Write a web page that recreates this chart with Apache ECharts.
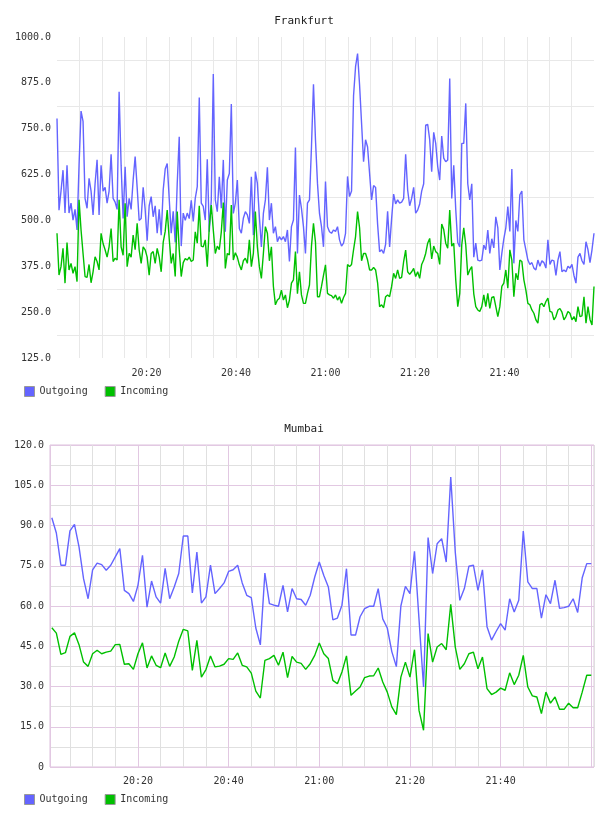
<!DOCTYPE html>
<html>
<head>
<meta charset="utf-8">
<title>Frankfurt / Mumbai</title>
<script src="https://cdn.jsdelivr.net/npm/echarts@6/dist/echarts.min.js"></script>
<style>
html, body { margin: 0; padding: 0; background: #fff; }
#main { width: 608px; height: 816px; }
</style>
</head>
<body>
<div id="main"></div>
<script>
// tick labels every 20 minutes after 20:00
var tickLabels = ['20:20', '20:40', '21:00', '21:20', '21:40'];
var seriesNames = ['Outgoing', 'Incoming'];

// Frankfurt, 20:00 - 22:00, evenly spaced samples
var fraOut = [
  778,528,580,637,520,650,520,547,501,530, 474,650,798,770,560,533,615,580,515,600,
  665,515,650,580,590,547,580,680,560,550, 530,851,650,505,646,510,560,530,610,674,
  590,500,505,590,530,445,540,565,510,540, 465,530,460,583,640,655,560,465,525,440,
  600,728,430,520,500,520,505,555,
  497,560,592,835,547,538,501,667,469,556, 899,556,524,619,533,665,469,610,628,817,
  519,547,610,478,465,506,524,515,492,619, 460,633,601,510,428,519,556,645,501,547,
  465,483,442,456,447,456,442,474,388,483, 501,699,410,569,533,483,410,547,556,701,
  871,719,601,519,483,428,606,483,
  469,465,474,470,483,447,430,438,465,620, 565,580,840,919,955,870,765,660,720,700,
  628,556,595,590,490,415,420,410,435,525, 428,505,572,545,556,547,550,560,680,583,
  540,560,590,520,528,545,580,600,760,762, 720,633,740,710,647,610,730,670,660,665,
  887,560,650,530,440,428,710,
  710,819,600,556,600,400,438,392,390,392, 433,420,474,410,450,425,510,480,365,410,
  450,480,538,470,640,383,500,470,570,580, 447,420,392,380,385,370,365,392,375,390,
  385,370,447,380,392,390,350,392,415,360, 365,360,375,370,380,350,329,400,410,390,
  380,442,420,385,420,465
];
var fraIn = [
  465,351,374,424,329,440,365,383,356,374, 333,556,474,410,347,345,380,330,360,401,
  388,365,465,437,420,400,428,478,388,397, 392,556,428,405,547,374,410,400,460,420,
  492,420,383,428,420,400,351,410,415,383, 424,400,360,440,470,528,450,383,410,347,
  524,420,347,385,396,392,400,388,
  392,469,438,540,430,428,447,374,483,542, 474,410,430,420,469,549,369,410,406,542,
  392,412,400,379,365,390,397,383,447,374, 410,524,428,374,342,410,483,465,390,428,
  320,270,283,288,310,283,297,262,283,329, 338,415,300,360,297,274,274,301,324,430,
  492,440,292,292,320,350,379,301,
  297,295,288,297,283,292,274,290,301,380, 374,380,420,456,524,480,390,410,410,392,
  365,365,372,365,330,265,270,262,292,297, 292,320,356,342,365,342,345,388,419,360,
  353,360,369,347,360,342,380,392,410,438, 451,395,430,415,410,380,490,475,438,424,
  528,430,438,338,265,301,433,
  480,433,351,365,374,300,265,256,252,265, 297,265,301,260,290,292,265,238,265,320,
  329,365,315,420,392,292,356,338,392,388, 338,310,274,270,256,247,229,220,270,274,
  265,279,288,252,250,229,238,256,260,250, 229,238,252,247,229,238,224,265,238,240,
  292,220,265,230,215,320
];

// Mumbai, one sample per minute, 20:01 - 22:00
var mumOut = [
  92.9,87.2,75.2,75.2,88.0,90.4,82.0,70.2,62.7,73.5, 76.0,75.4,73.3,75.2,78.3,81.4,65.8,64.6,61.7,67.7,
  78.9,59.6,69.3,63.4,61.1,74.0,62.7,67.1,72.1,86.1, 86.1,64.9,80.1,61.1,63.4,75.2,64.6,66.5,68.6,72.9,
  73.5,75.2,68.6,64.0,63.1,51.8,45.5,72.3,60.9,60.3, 59.9,67.7,57.8,66.5,62.7,62.4,60.3,64.0,70.8,76.4,
  71.4,67.1,54.8,55.5,60.3,73.9,49.2,49.2,56.0,59.0, 59.9,59.9,66.5,55.2,51.8,43.0,37.4,60.0,67.3,64.6,
  80.4,55.0,29.8,85.5,72.1,83.2,85.1,76.4,108.1,80.0, 62.1,66.5,74.8,75.2,65.8,73.5,52.3,47.3,50.5,53.4,
  51.0,62.7,57.8,62.1,87.9,69.0,66.5,66.5,55.5,64.2, 60.9,69.6,59.1,59.4,59.9,62.7,57.6,70.5,75.8,75.8
];
var mumIn = [
  51.9,49.9,42.0,42.6,48.7,50.0,45.6,39.1,37.5,42.2, 43.5,42.2,42.8,43.2,45.6,45.7,38.3,38.5,36.4,42.2,
  46.3,36.9,41.4,37.9,37.0,42.5,37.5,41.0,46.9,51.3, 50.7,36.0,47.2,33.5,36.3,41.4,37.3,37.6,38.3,40.4,
  40.1,42.5,37.9,37.3,35.0,28.3,25.7,39.7,40.4,41.6, 37.9,42.8,33.3,41.2,39.1,38.6,36.4,38.5,41.6,46.2,
  42.2,40.4,32.3,31.0,35.4,41.4,26.7,28.3,29.8,33.3, 33.9,34.0,36.9,31.7,27.9,22.4,19.5,33.5,39.1,33.5,
  43.7,21.1,13.7,49.7,39.1,44.7,46.0,43.7,60.6,44.7, 36.4,38.5,42.2,42.8,36.6,41.0,29.2,27.0,27.9,29.4,
  28.6,35.1,30.7,34.2,41.6,29.8,26.5,26.1,19.9,27.9, 23.8,26.1,21.5,21.5,23.8,22.1,22.1,27.9,34.2,34.2
];

var mono = 'DejaVu Sans Mono';
var txt = {fontFamily: mono, fontSize: 10, color: '#333'};

var fraStep = 120 / (fraOut.length - 1);
function fraPts(arr) { return arr.map(function (v, i) { return [i * fraStep, v]; }); }
function mumPts(arr) { return arr.map(function (v, i) { return [i + 1, v]; }); }

function timeFmt(v) {
  if (v % 20 === 0 && v > 0 && v < 120) return tickLabels[v / 20 - 1];
  return '';
}

function legendCfg(top) {
  return {
    data: seriesNames, left: 24, top: top, padding: 0,
    itemWidth: 10, itemHeight: 10, itemGap: 17, icon: 'rect',
    itemStyle: {borderColor: '#999', borderWidth: 1},
    textStyle: txt
  };
}

function lineSeries(name, color, xi, data) {
  return {
    name: name, type: 'line', xAxisIndex: xi, yAxisIndex: xi,
    data: data, showSymbol: false, symbol: 'none',
    lineStyle: {width: 1.4, color: color}, itemStyle: {color: color}
  };
}

var blue = '#6464ff', green = '#00c000';
var pink = '#e2c8e2', gray = '#e0e0e0';

var myChart = echarts.init(document.getElementById('main'), null, {renderer: 'canvas'});
var option = {
  animation: false,
  title: [
    {text: 'Frankfurt', left: 'center', top: 11,
     textStyle: {fontFamily: mono, fontSize: 11, fontWeight: 'normal', color: '#222'}},
    {text: 'Mumbai', left: 'center', top: 419,
     textStyle: {fontFamily: mono, fontSize: 11, fontWeight: 'normal', color: '#222'}}
  ],
  legend: [legendCfg(386), legendCfg(794)],
  grid: [
    {left: 57, right: 14, top: 37, height: 321},
    {left: 50, right: 14, top: 445, height: 322, show: true,
     borderColor: '#dcc0dc', borderWidth: 1, backgroundColor: 'transparent'}
  ],
  xAxis: [
    {type: 'value', gridIndex: 0, min: 0, max: 120, interval: 5,
     axisLine: {show: false}, axisTick: {show: false},
     axisLabel: {formatter: timeFmt, margin: 10, fontFamily: mono, fontSize: 10, color: '#333'},
     splitLine: {show: true, showMinLine: false, showMaxLine: false, lineStyle: {color: '#e8e8e8'}}},
    {type: 'value', gridIndex: 1, min: 0.6, max: 120.6, splitNumber: 24,
     axisLine: {show: false}, axisTick: {show: false},
     axisLabel: {formatter: timeFmt, margin: 9, fontFamily: mono, fontSize: 10, color: '#333',
                 showMinLabel: false, showMaxLabel: false},
     splitLine: {show: true, lineStyle: {color: [pink, gray, gray, gray]}}}
  ],
  yAxis: [
    {type: 'value', gridIndex: 0, min: 125, max: 1000, interval: 125,
     axisLine: {show: false}, axisTick: {show: false},
     axisLabel: {formatter: function (v) { return v.toFixed(1); }, margin: 6,
                 fontFamily: mono, fontSize: 10, color: '#333'},
     splitLine: {show: false},
     minorTick: {show: false, splitNumber: 2},
     minorSplitLine: {show: true, lineStyle: {color: '#e8e8e8'}}},
    {type: 'value', gridIndex: 1, min: 0, max: 120, interval: 15,
     axisLine: {show: false}, axisTick: {show: false},
     axisLabel: {formatter: function (v) { return v === 0 ? '0' : v.toFixed(1); }, margin: 6,
                 fontFamily: mono, fontSize: 10, color: '#333'},
     splitLine: {show: true, lineStyle: {color: pink}},
     minorTick: {show: false, splitNumber: 2},
     minorSplitLine: {show: true, lineStyle: {color: gray}}}
  ],
  series: [
    lineSeries(seriesNames[0], blue, 0, fraPts(fraOut)),
    lineSeries(seriesNames[1], green, 0, fraPts(fraIn)),
    lineSeries(seriesNames[0], blue, 1, mumPts(mumOut)),
    lineSeries(seriesNames[1], green, 1, mumPts(mumIn))
  ]
};
myChart.setOption(option);
</script>
</body>
</html>
